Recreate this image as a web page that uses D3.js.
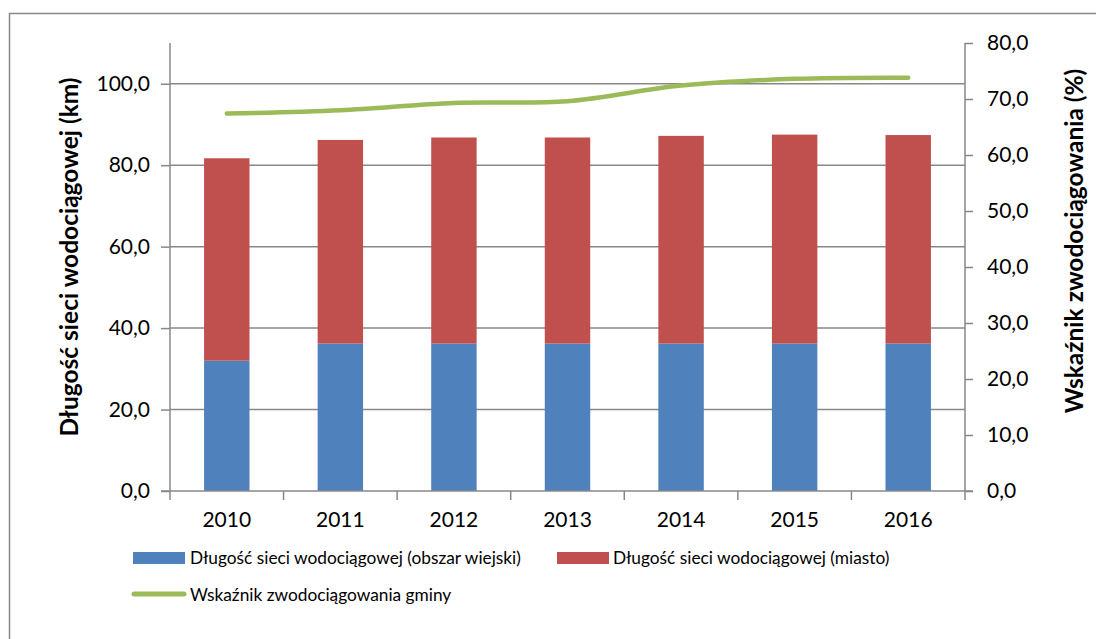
<!DOCTYPE html>
<html>
<head>
<meta charset="utf-8">
<script src="https://cdn.jsdelivr.net/npm/d3@7"></script>
<style>
  html, body { margin: 0; padding: 0; background: #fff; }
  svg { display: block; }
  text { font-family: Lato, "Open Sans", "Noto Sans", sans-serif; fill: #000; }
</style>
</head>
<body>
<svg id="chart" width="1096" height="639"></svg>
<script>
const years = ["2010", "2011", "2012", "2013", "2014", "2015", "2016"];
const ruralKm = [32.0, 36.2, 36.2, 36.2, 36.2, 36.2, 36.2];
const totalKm = [81.7, 86.2, 86.8, 86.8, 87.2, 87.5, 87.4];
const cityKm = totalKm.map((t, i) => +(t - ruralKm[i]).toFixed(1));
const coverage = [67.4, 68.0, 69.3, 69.6, 72.4, 73.6, 73.8];
const leftTicks = [0, 20, 40, 60, 80, 100];
const rightTicks = [0, 10, 20, 30, 40, 50, 60, 70, 80];
const seriesNames = [
  "Długość sieci wodociągowej (obszar wiejski)",
  "Długość sieci wodociągowej (miasto)",
  "Wskaźnik zwodociągowania gminy"
];
const colors = ["#4F81BD", "#C0504D", "#9BBB59"];

const svg = d3.select("#chart");
const pL = 170, pR = 965, pT = 43, pB = 491;
const fmt = v => d3.format(".1f")(v).replace(".", ",");
const axisColor = "#888888";

// outer border
svg.append("rect").attr("x", 9.5).attr("y", 13.5).attr("width", 1200).attr("height", 800)
  .attr("fill", "none").attr("stroke", axisColor).attr("stroke-width", 1.5);

const x = d3.scaleBand().domain(years).range([pL, pR]).paddingInner(0.6).paddingOuter(0.3);
const yL = d3.scaleLinear().domain([0, 110]).range([pB, pT]);
const yR = d3.scaleLinear().domain([0, 80]).range([pB, pT]);

// gridlines
svg.append("g").selectAll("line").data(leftTicks.filter(d => d > 0)).join("line")
  .attr("x1", pL).attr("x2", pR)
  .attr("y1", d => yL(d)).attr("y2", d => yL(d))
  .attr("stroke", axisColor).attr("stroke-width", 1.5);

// stacked bars
const stackData = years.map((y, i) => ({ year: y, rural: ruralKm[i], city: cityKm[i] }));
const stacked = d3.stack().keys(["rural", "city"])(stackData);
svg.append("g").selectAll("g").data(stacked).join("g")
  .attr("fill", (d, i) => colors[i])
  .selectAll("rect").data(d => d).join("rect")
  .attr("x", d => x(d.data.year))
  .attr("width", x.bandwidth())
  .attr("y", d => yL(d[1]))
  .attr("height", d => yL(d[0]) - yL(d[1]));

// left axis
const gL = svg.append("g").attr("transform", `translate(${pL},0)`)
  .call(d3.axisLeft(yL).tickValues(leftTicks).tickFormat(fmt).tickSize(9).tickPadding(11));
// right axis
const gR = svg.append("g").attr("transform", `translate(${pR},0)`)
  .call(d3.axisRight(yR).tickValues(rightTicks).tickFormat(fmt).tickSize(8).tickPadding(14));
// bottom axis
const gB = svg.append("g").attr("transform", `translate(0,${pB})`)
  .call(d3.axisBottom(x).tickSize(0).tickPadding(21));
// category boundary ticks
const bounds = d3.range(years.length + 1).map(i => pL + i * x.step());
svg.append("g").selectAll("line").data(bounds).join("line")
  .attr("x1", d => d).attr("x2", d => d).attr("y1", pB).attr("y2", pB + 9)
  .attr("stroke", axisColor).attr("stroke-width", 1.5);

[gL, gR, gB].forEach(g => {
  g.select(".domain").attr("stroke", axisColor).attr("stroke-width", 1.5);
  g.selectAll(".tick line").attr("stroke", axisColor).attr("stroke-width", 1.5);
  g.selectAll("text").attr("font-size", 21).attr("font-family", "Lato, 'Open Sans', sans-serif").attr("fill", "#000");
});
gL.select(".domain").attr("d", `M0,${pT}V${pB}`);
gR.select(".domain").attr("d", `M0,${pT}V${pB}`);
gB.select(".domain").attr("d", `M${pL - 9},0H${pR + 8}`);

// line
const line = d3.line()
  .x((d, i) => x(years[i]) + x.bandwidth() / 2)
  .y(d => yR(d))
  .curve(d3.curveCatmullRom.alpha(0.5));
svg.append("path").datum(coverage).attr("d", line)
  .attr("fill", "none").attr("stroke", colors[2]).attr("stroke-width", 4.5)
  .attr("stroke-linecap", "round").attr("stroke-linejoin", "round");

// axis titles
svg.append("text").attr("transform", `translate(78,257) rotate(-90)`)
  .attr("text-anchor", "middle").attr("font-size", 24.5).attr("font-weight", "bold")
  .text("Długość sieci wodociągowej (km)");
svg.append("text").attr("transform", `translate(1083,241) rotate(-90)`)
  .attr("text-anchor", "middle").attr("font-size", 24.5).attr("font-weight", "bold")
  .text("Wskaźnik zwodociągowania (%)");

// legend
const lg = svg.append("g");
lg.append("rect").attr("x", 133).attr("y", 552).attr("width", 52).attr("height", 12).attr("fill", colors[0]);
lg.append("text").attr("x", 190).attr("y", 564).attr("font-size", 17.3).text(seriesNames[0]);
lg.append("rect").attr("x", 557).attr("y", 552).attr("width", 52).attr("height", 12).attr("fill", colors[1]);
lg.append("text").attr("x", 613).attr("y", 564).attr("font-size", 17.3).text(seriesNames[1]);
lg.append("line").attr("x1", 134).attr("x2", 184).attr("y1", 594).attr("y2", 594)
  .attr("stroke", colors[2]).attr("stroke-width", 5).attr("stroke-linecap", "round");
lg.append("text").attr("x", 190).attr("y", 601).attr("font-size", 17.3).text(seriesNames[2]);
</script>
</body>
</html>
